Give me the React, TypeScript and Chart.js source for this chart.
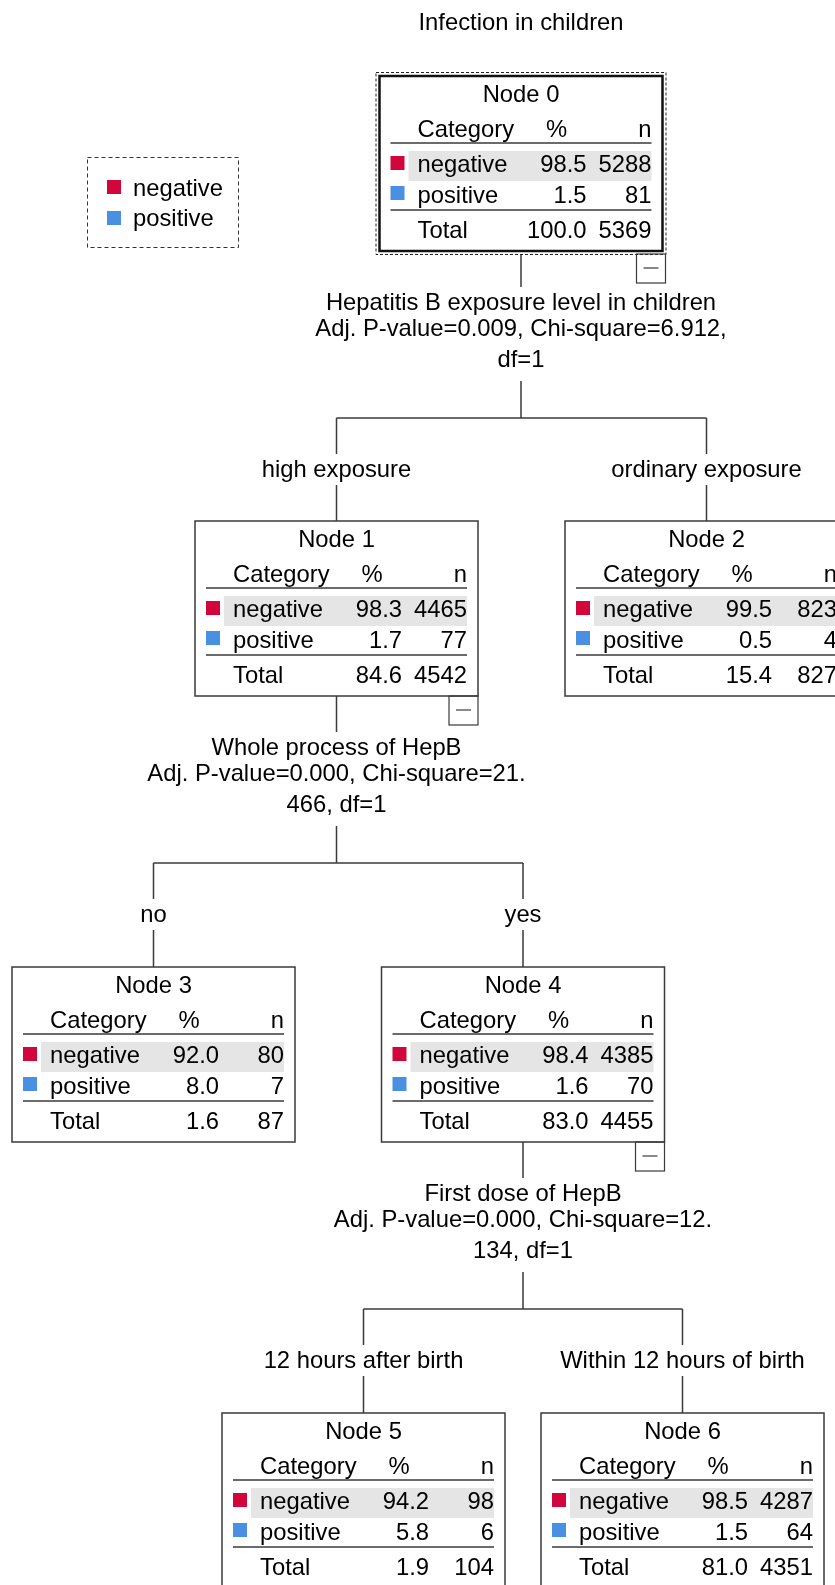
import React, { useEffect, useRef } from "react";
import { Chart, registerables } from "chart.js";

Chart.register(...registerables);

// ---------------- data ----------------
const chartTitle = "Infection in children";
const categories = ["negative", "positive"];
const nodeIds = [0, 1, 2, 3, 4, 5, 6];
const parentIds = [-1, 0, 0, 1, 1, 4, 4];
const negativePct = [98.5, 98.3, 99.5, 92.0, 98.4, 94.2, 98.5];
const negativeN = [5288, 4465, 823, 80, 4385, 98, 4287];
const positivePct = [1.5, 1.7, 0.5, 8.0, 1.6, 5.8, 1.5];
const positiveN = [81, 77, 4, 7, 70, 6, 64];
const totalPct = [100.0, 84.6, 15.4, 1.6, 83.0, 1.9, 81.0];
const totalN = [5369, 4542, 827, 87, 4455, 104, 4351];
const branchLabels = [
  "",
  "high exposure",
  "ordinary exposure",
  "no",
  "yes",
  "12 hours after birth",
  "Within 12 hours of birth",
];
const splitNodeIds = [0, 1, 4];
const splitLines = [
  ["Hepatitis B exposure level in children", "Adj. P-value=0.009, Chi-square=6.912,", "df=1"],
  ["Whole process of HepB", "Adj. P-value=0.000, Chi-square=21.", "466, df=1"],
  ["First dose of HepB", "Adj. P-value=0.000, Chi-square=12.", "134, df=1"],
];
const tableHeader = ["Category", "%", "n"];
const totalLabel = "Total";
const selectedNodeId = 0;

// ---------------- layout (values on the hidden chart scales) ----------------
const nodeCenterX = [521, 336.5, 706.5, 153.5, 523, 363.5, 682.5];
const nodeLevel = [0, 1, 1, 2, 2, 3, 3];
const levelTop = [76, 521, 967, 1413];

// ---------------- styles ----------------
const FONT = '23.8px "Liberation Sans", Arial, sans-serif';
const categoryColors = ["#d2063a", "#4a90e2"];
const LINE = "#3a3a3a";
const ROW_BG = "#e5e5e5";
const NODE_W = 283;
const NODE_H = 175;

function nodeLeft(i: number) {
  return nodeCenterX[i] - NODE_W / 2;
}
function nodeTop(i: number) {
  return levelTop[nodeLevel[i]];
}

// edges as line datasets
function seg(x1: number, y1: number, x2: number, y2: number) {
  return {
    data: [
      { x: x1, y: y1 },
      { x: x2, y: y2 },
    ],
    showLine: true,
    borderColor: LINE,
    borderWidth: 1.5,
    pointRadius: 0,
    pointHoverRadius: 0,
    fill: false,
  };
}

function buildEdges() {
  const out: any[] = [];
  splitNodeIds.forEach((p) => {
    const px = nodeCenterX[p];
    const T = nodeTop(p);
    const bottom = T + NODE_H + (p === selectedNodeId ? 3 : 0);
    const bar = T + 342;
    out.push(seg(px, bottom, px, T + 211));
    out.push(seg(px, T + 305, px, bar));
    const kids = nodeIds.filter((c) => parentIds[c] === p);
    const xs = kids.map((c) => nodeCenterX[c]);
    out.push(seg(Math.min(...xs), bar, Math.max(...xs), bar));
    kids.forEach((c) => {
      const cx = nodeCenterX[c];
      out.push(seg(cx, bar, cx, bar + 36));
      out.push(seg(cx, bar + 67, cx, nodeTop(c)));
    });
  });
  return out;
}

const treePlugin = {
  id: "treePlugin",
  beforeDraw(chart: any) {
    const ctx = chart.ctx;
    ctx.save();
    ctx.fillStyle = "#ffffff";
    ctx.fillRect(0, 0, chart.width, chart.height);
    ctx.restore();
  },
  afterDatasetsDraw(chart: any) {
    const ctx: CanvasRenderingContext2D = chart.ctx;
    const X = (v: number) => chart.scales.x.getPixelForValue(v);
    const Y = (v: number) => chart.scales.y.getPixelForValue(v);
    ctx.save();
    ctx.font = FONT;
    ctx.textBaseline = "middle";
    ctx.fillStyle = "#000";

    const text = (s: string, x: number, y: number, align: CanvasTextAlign) => {
      ctx.textAlign = align;
      ctx.fillStyle = "#000";
      ctx.fillText(s, X(x), Y(y));
    };
    const hline = (x1: number, x2: number, y: number, w = 1.5) => {
      ctx.strokeStyle = LINE;
      ctx.lineWidth = w;
      ctx.beginPath();
      ctx.moveTo(X(x1), Y(y));
      ctx.lineTo(X(x2), Y(y));
      ctx.stroke();
    };
    const rect = (x: number, y: number, w: number, h: number, lw: number, color: string, dash: number[] = []) => {
      ctx.strokeStyle = color;
      ctx.lineWidth = lw;
      ctx.setLineDash(dash);
      ctx.strokeRect(X(x), Y(y), X(x + w) - X(x), Y(y + h) - Y(y));
      ctx.setLineDash([]);
    };
    const fillRect = (x: number, y: number, w: number, h: number, color: string) => {
      ctx.fillStyle = color;
      ctx.fillRect(X(x), Y(y), X(x + w) - X(x), Y(y + h) - Y(y));
    };

    // title
    text(chartTitle, 521, 23, "center");

    // legend
    rect(87.5, 157.5, 151, 90, 1, "#333", [4, 3]);
    categories.forEach((c, k) => {
      fillRect(107, 180 + k * 31, 14, 14, categoryColors[k]);
      text(c, 133, 189 + k * 30, "left");
    });

    // split texts & branch labels
    splitNodeIds.forEach((p, k) => {
      const C = nodeTop(p) + 211;
      const offs = [16, 42, 73];
      splitLines[k].forEach((s, j) => text(s, nodeCenterX[p], C + offs[j], "center"));
      const bar = nodeTop(p) + 342;
      nodeIds
        .filter((c) => parentIds[c] === p)
        .forEach((c) => text(branchLabels[c], nodeCenterX[c], bar + 52, "center"));
    });

    // nodes
    nodeIds.forEach((i) => {
      const L = nodeLeft(i);
      const T = nodeTop(i);
      fillRect(L + 29, T + 75, 243, 30, ROW_BG);
      fillRect(L + 11, T + 80, 14, 14, categoryColors[0]);
      fillRect(L + 11, T + 110, 14, 14, categoryColors[1]);
      hline(L + 11, L + 272, T + 67);
      hline(L + 11, L + 272, T + 134);
      if (i === selectedNodeId) {
        rect(L, T, NODE_W, NODE_H, 2.5, "#111");
        rect(L - 3.5, T - 3.5, NODE_W + 7, NODE_H + 7, 1, "#222", [3, 2]);
      } else {
        rect(L, T, NODE_W, NODE_H, 1.5, LINE);
      }
      text("Node " + i, L + NODE_W / 2, T + 19, "center");
      text(tableHeader[0], L + 38, T + 54, "left");
      text(tableHeader[1], L + 177, T + 54, "center");
      text(tableHeader[2], L + 272, T + 54, "right");
      const rows: [string, number, number, number][] = [
        [categories[0], negativePct[i], negativeN[i], T + 89],
        [categories[1], positivePct[i], positiveN[i], T + 120],
        [totalLabel, totalPct[i], totalN[i], T + 155],
      ];
      rows.forEach(([lab, pct, n, y]) => {
        text(lab, L + 38, y, "left");
        text(pct.toFixed(1), L + 207, y, "right");
        text(String(n), L + 272, y, "right");
      });
      // collapse (minus) button
      if (splitNodeIds.includes(i)) {
        const extra = i === selectedNodeId ? 3 : 0;
        const R = L + NODE_W + extra;
        const B = T + NODE_H + extra;
        rect(R - 29, B, 29, 29, 1.2, LINE);
        hline(R - 22, R - 7, B + 14, 1.2);
      }
    });
    ctx.restore();
  },
};

export default function App() {
  const ref = useRef<HTMLCanvasElement>(null);
  useEffect(() => {
    document.body.style.margin = "0";
    const canvas = ref.current;
    if (!canvas) return;
    const chart = new Chart(canvas, {
      type: "scatter",
      data: { datasets: buildEdges() },
      options: {
        responsive: false,
        animation: false,
        events: [],
        layout: { padding: 0 },
        scales: {
          x: { type: "linear", min: 0, max: 835, display: false },
          y: { type: "linear", min: 0, max: 1585, reverse: true, display: false },
        },
        plugins: {
          legend: { display: false },
          tooltip: { enabled: false },
        },
      },
      plugins: [treePlugin],
    } as any);
    return () => chart.destroy();
  }, []);
  return <canvas ref={ref} width={835} height={1585} style={{ display: "block", width: 835, height: 1585 }} />;
}
